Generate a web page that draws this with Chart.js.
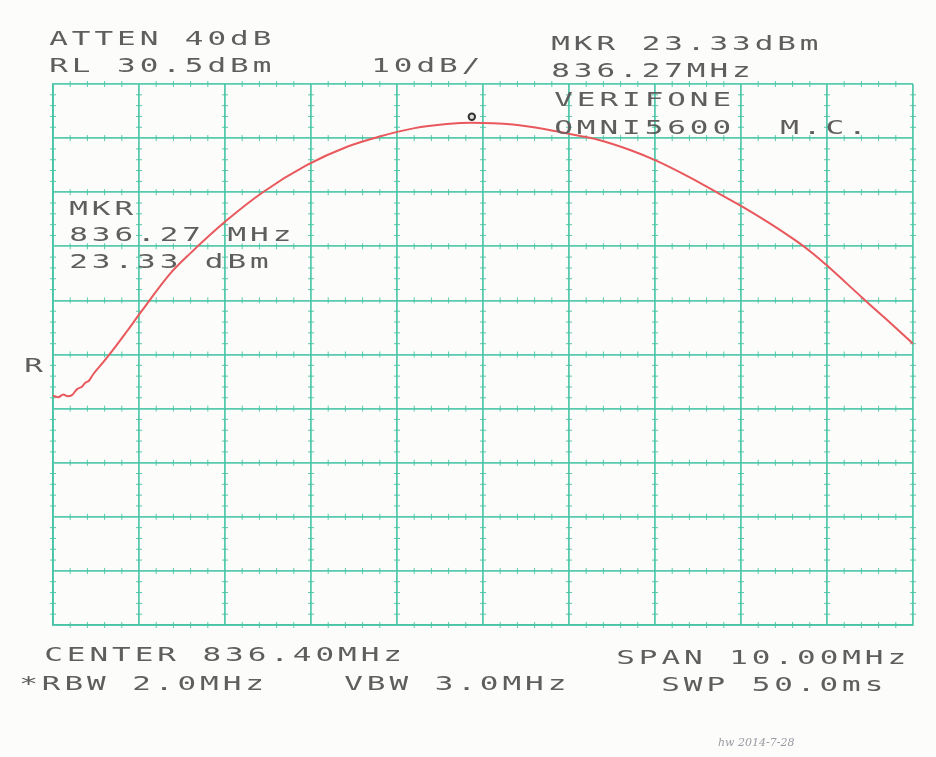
<!DOCTYPE html>
<html>
<head>
<meta charset="utf-8">
<script src="https://cdn.jsdelivr.net/npm/chart.js@4/dist/chart.umd.min.js"></script>
<style>
  html, body { margin: 0; padding: 0; background: #fcfcfa; }
  #wrap { position: relative; width: 936px; height: 757px; }
</style>
</head>
<body>
<div id="wrap"><canvas id="c" width="936" height="757"></canvas></div>
<script>
// ---- data ----
const freqMHz = [831.40, 831.46, 831.52, 831.57, 831.62, 831.68, 831.74, 831.77, 831.82, 831.87,
                 831.98, 832.10, 832.26, 832.43, 832.76, 832.99, 833.42, 833.84, 834.35, 834.82,
                 835.20, 835.59, 835.98, 836.27, 836.75, 837.14, 837.53, 837.76, 838.11, 838.42,
                 838.81, 839.16, 839.42, 839.74, 840.05, 840.25, 840.41, 840.81, 841.09, 841.40];
const levelDbm = [-27.1, -27.4, -26.9, -27.2, -27.0, -25.9, -25.4, -24.8, -24.3, -23.1,
                  -21.0, -18.6, -15.2, -11.5, -4.6, -0.9, 5.3, 10.5, 15.5, 18.9,
                  20.8, 22.3, 23.1, 23.33, 23.0, 22.1, 20.9, 20.1, 18.3, 16.3,
                  13.2, 10.1, 7.8, 4.7, 1.4, -1.0, -3.2, -9.0, -13.0, -17.5];
const markerFreq = [836.27];
const markerLevel = [23.33];
const xGridMHz = [831.4, 832.4, 833.4, 834.4, 835.4, 836.4, 837.4, 838.4, 839.4, 840.4, 841.4];
const yGridDbm = [30.5, 20.5, 10.5, 0.5, -9.5, -19.5, -29.5, -39.5, -49.5, -59.5, -69.5];

const textLines = ["ATTEN 40dB", "RL 30.5dBm", "10dB/", "MKR 23.33dBm", "836.27MHz",
                   "VERIFONE", "OMNI5600  M.C.", "MKR", "836.27 MHz", "23.33 dBm", "R",
                   "CENTER 836.40MHz", "*RBW 2.0MHz", "VBW 3.0MHz", "SPAN 10.00MHz", "SWP 50.0ms"];
const textX = [50, 50, 372, 552, 552, 555, 555, 70, 70, 70, 25, 45, 20, 345, 617, 662];
const textBase = [45, 72, 72, 50, 77, 106, 134, 215, 241, 268, 372, 661, 690, 690, 664, 691];
const noteText = "hw 2014-7-28";

const GRID = 'rgba(70,196,164,0.9)';

const plotterText = {
  id: 'plotterText',
  afterDraw(chart) {
    const ctx = chart.ctx;
    ctx.save();
    ctx.fillStyle = '#5e5e5e';
    ctx.font = '20px "DejaVu Sans Mono"';
    ctx.textBaseline = 'alphabetic';
    const pitch = 22.6;
    textLines.forEach((s, i) => {
      for (let k = 0; k < s.length; k++) {
        const ch = s[k];
        if (ch === ' ') continue;
        ctx.save();
        ctx.translate(textX[i] + k * pitch, textBase[i]);
        ctx.scale(1.55, 1);
        ctx.fillText(ch, -0.5, 0);
        ctx.restore();
      }
    });
    ctx.fillStyle = '#9a9aa6';
    ctx.font = 'italic 11px "DejaVu Serif"';
    ctx.fillText(noteText, 718, 746);
    ctx.restore();
  }
};

const minorTicks = {
  id: 'minorTicks',
  beforeDatasetsDraw(chart) {
    const {ctx, scales: {x, y}} = chart;
    ctx.save();
    ctx.strokeStyle = GRID;
    ctx.lineWidth = 1;
    ctx.beginPath();
    const xs = xGridMHz, ys = yGridDbm;
    xs.forEach(fx => {
      const px = x.getPixelForValue(fx);
      for (let j = 0; j < ys.length - 1; j++) {
        for (let m = 1; m < 5; m++) {
          const v = ys[j] + (ys[j + 1] - ys[j]) * m / 5;
          const py = y.getPixelForValue(v);
          ctx.moveTo(px - 3, py); ctx.lineTo(px + 3, py);
        }
      }
    });
    ys.forEach(vy => {
      const py = y.getPixelForValue(vy);
      for (let j = 0; j < xs.length - 1; j++) {
        for (let m = 1; m < 5; m++) {
          const f = xs[j] + (xs[j + 1] - xs[j]) * m / 5;
          const px = x.getPixelForValue(f);
          ctx.moveTo(px, py - 3); ctx.lineTo(px, py + 3);
        }
      }
    });
    ctx.stroke();
    ctx.restore();
  },
  afterDatasetsDraw(chart) {
    const {ctx, scales: {x, y}} = chart;
    ctx.save();
    const px = x.getPixelForValue(markerFreq[0]);
    const py = y.getPixelForValue(markerLevel[0]) - 6;
    ctx.fillStyle = '#dcdcdc';
    ctx.strokeStyle = '#333';
    ctx.lineWidth = 2;
    ctx.beginPath();
    ctx.arc(px, py, 3.2, 0, Math.PI * 2);
    ctx.fill(); ctx.stroke();
    ctx.restore();
  }
};

new Chart(document.getElementById('c'), {
  type: 'line',
  data: {
    datasets: [{
      data: freqMHz.map((f, i) => ({x: f, y: levelDbm[i]})),
      borderColor: 'rgb(232,88,92)',
      borderWidth: 2,
      pointRadius: 0,
      cubicInterpolationMode: 'monotone',
      fill: false
    }]
  },
  options: {
    responsive: false,
    animation: false,
    devicePixelRatio: 1,
    layout: { padding: { left: 53, right: 23, top: 84, bottom: 132 } },
    plugins: { legend: { display: false }, tooltip: { enabled: false }, title: { display: false } },
    scales: {
      x: {
        type: 'linear', min: 831.4, max: 841.4,
        afterBuildTicks: s => { s.ticks = xGridMHz.map(v => ({value: v})); },
        ticks: { display: false },
        grid: { color: GRID, lineWidth: 1.8, drawTicks: false },
        border: { display: true, color: GRID, width: 1.8 }
      },
      y: {
        type: 'linear', min: -69.5, max: 30.5,
        afterBuildTicks: s => { s.ticks = yGridDbm.map(v => ({value: v})); },
        ticks: { display: false },
        grid: { color: GRID, lineWidth: 1.8, drawTicks: false },
        border: { display: true, color: GRID, width: 1.8 }
      }
    }
  },
  plugins: [minorTicks, plotterText]
});
</script>
</body>
</html>
